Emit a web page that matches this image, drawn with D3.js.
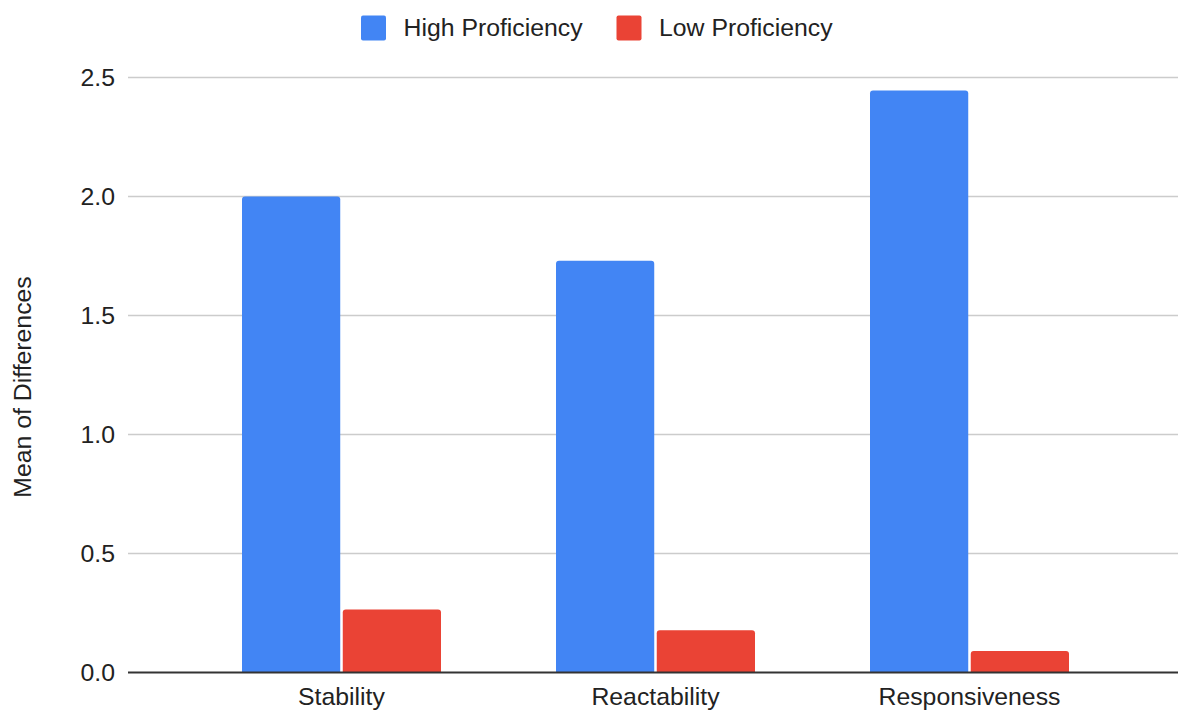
<!DOCTYPE html>
<html>
<head>
<meta charset="utf-8">
<script src="https://cdn.jsdelivr.net/npm/d3@7"></script>
<style>
  html, body { margin: 0; padding: 0; background: #fff; }
  svg { display: block; font-family: "Liberation Sans", Arial, sans-serif; }
</style>
</head>
<body>
<svg id="chart" width="1180" height="711"></svg>
<script>
// Mean of differences by category for the two proficiency groups
const categories = ["Stability", "Reactability", "Responsiveness"];
const seriesNames = ["High Proficiency", "Low Proficiency"];
const highProficiency = [2.0, 1.73, 2.445];
const lowProficiency = [0.265, 0.178, 0.09];
const yTicks = [0, 0.5, 1.0, 1.5, 2.0, 2.5];
const yTitle = "Mean of Differences";

const colors = ["#4285F4", "#EA4335"];
const textColor = "#222222";
const fontSize = 24.8;

const svg = d3.select("#chart");

const plot = { left: 128, right: 1178, top: 77.5, bottom: 672.5 };

const y = d3.scaleLinear().domain([0, 2.5]).range([plot.bottom, plot.top]);

const x = d3.scaleBand()
  .domain(categories)
  .range([184.5, 1126.5])
  .paddingInner(0)
  .paddingOuter(0);

const groupPad = 57.5;
const xs = d3.scaleBand()
  .domain(seriesNames)
  .range([groupPad, x.bandwidth() - groupPad])
  .paddingInner(0.025);

// Horizontal gridlines
svg.append("g")
  .selectAll("line")
  .data(yTicks.filter(d => d !== 0))
  .join("line")
  .attr("x1", plot.left)
  .attr("x2", plot.right)
  .attr("y1", d => y(d))
  .attr("y2", d => y(d))
  .attr("stroke", "#cccccc")
  .attr("stroke-width", 1.5);

// Y tick labels
svg.append("g")
  .selectAll("text")
  .data(yTicks)
  .join("text")
  .attr("x", 115)
  .attr("y", d => y(d))
  .attr("dy", "0.35em")
  .attr("text-anchor", "end")
  .attr("font-size", fontSize)
  .attr("fill", textColor)
  .text(d => d.toFixed(1));

// Bars with slightly rounded top corners
function barPath(x0, w, yTop, yBase, r) {
  r = Math.min(r, (yBase - yTop) / 2, w / 2);
  return `M${x0},${yBase}V${yTop + r}Q${x0},${yTop} ${x0 + r},${yTop}` +
         `H${x0 + w - r}Q${x0 + w},${yTop} ${x0 + w},${yTop + r}V${yBase}Z`;
}

const rows = categories.map((c, i) => ({
  category: c,
  values: [
    { series: seriesNames[0], value: highProficiency[i] },
    { series: seriesNames[1], value: lowProficiency[i] }
  ]
}));

const groups = svg.append("g")
  .selectAll("g")
  .data(rows)
  .join("g")
  .attr("transform", d => `translate(${x(d.category)},0)`);

groups.selectAll("path")
  .data(d => d.values)
  .join("path")
  .attr("d", d => barPath(xs(d.series), xs.bandwidth(), y(d.value), y(0), 3))
  .attr("fill", (d, i) => colors[i]);

// Baseline
svg.append("line")
  .attr("x1", plot.left)
  .attr("x2", plot.right)
  .attr("y1", y(0))
  .attr("y2", y(0))
  .attr("stroke", "#333333")
  .attr("stroke-width", 2);

// Category labels
svg.append("g")
  .selectAll("text")
  .data(categories)
  .join("text")
  .attr("x", d => x(d) + x.bandwidth() / 2)
  .attr("y", 705)
  .attr("text-anchor", "middle")
  .attr("font-size", fontSize)
  .attr("fill", textColor)
  .text(d => d);

// Y axis title
svg.append("text")
  .attr("transform", `translate(31,${(plot.top + plot.bottom) / 2 + 12}) rotate(-90)`)
  .attr("text-anchor", "middle")
  .attr("font-size", fontSize)
  .attr("fill", textColor)
  .text(yTitle);

// Legend
const legendItems = [
  { name: seriesNames[0], color: colors[0], x: 361 },
  { name: seriesNames[1], color: colors[1], x: 616.5 }
];
const legend = svg.append("g")
  .selectAll("g")
  .data(legendItems)
  .join("g")
  .attr("transform", d => `translate(${d.x},15.5)`);
legend.append("rect")
  .attr("width", 25)
  .attr("height", 25)
  .attr("rx", 2)
  .attr("fill", d => d.color);
legend.append("text")
  .attr("x", 42.5)
  .attr("y", 20)
  .attr("font-size", fontSize)
  .attr("fill", textColor)
  .text(d => d.name);
</script>
</body>
</html>
